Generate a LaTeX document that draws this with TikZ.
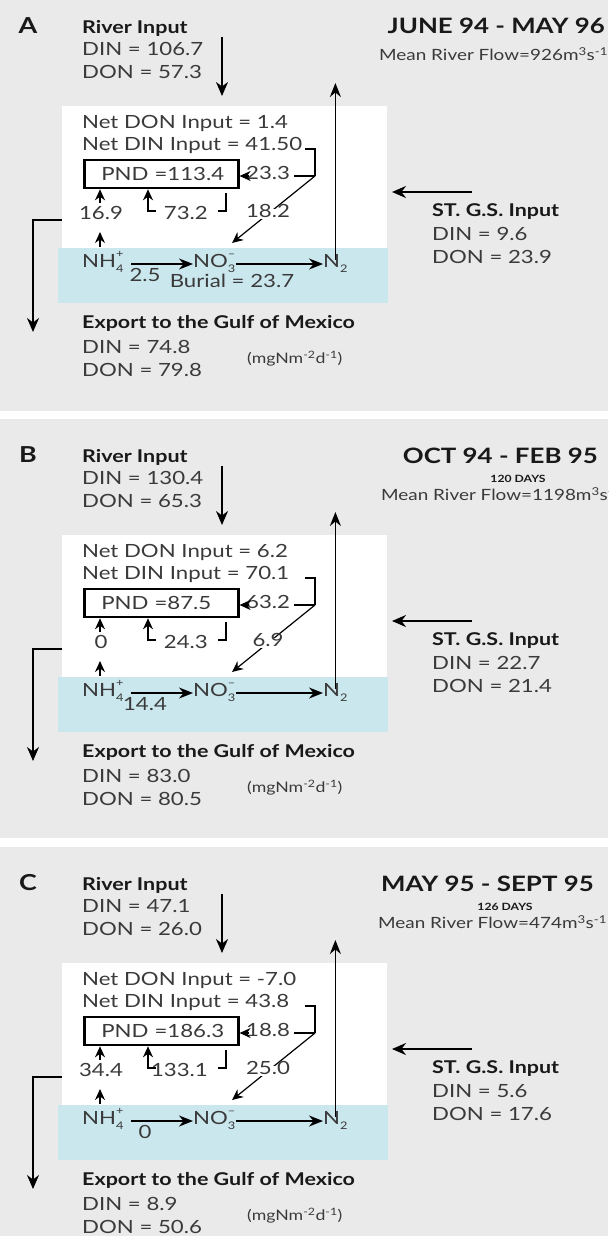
\documentclass[tikz,border=0pt]{standalone}
\usepackage{fontspec}
\setmainfont{Lato}[FakeStretch=1.22]
\usetikzlibrary{arrows.meta}
\definecolor{cardgray}{RGB}{234,234,234}
\definecolor{bandblue}{RGB}{203,231,238}
\definecolor{txtgray}{RGB}{58,58,58}
\newcommand\mysub[1]{\raisebox{-0.28em}{\fontsize{10.5}{11}\selectfont #1}}
\newcommand\mysup[1]{\raisebox{0.55em}{\fontsize{10.5}{11}\selectfont #1}}
\tikzset{
 txt/.style={font=\fontsize{18.2}{20}\selectfont, text=txtgray, inner sep=0pt, text height=0.72em, text depth=0pt, anchor=west},
 hd/.style={font=\bfseries\fontsize{17.6}{20}\selectfont, text=black!90, inner sep=0pt, text height=0.72em, text depth=0pt, anchor=west},
 lab/.style={font=\fontsize{18.2}{20}\selectfont, text=txtgray, inner sep=0pt, text height=0.72em, text depth=0pt},
 smalltxt/.style={font=\fontsize{15.5}{17}\selectfont, text=txtgray, inner sep=0pt, text height=0.72em, text depth=0pt, anchor=west},
 unittxt/.style={font=\fontsize{14.5}{16}\selectfont, text=txtgray, inner sep=0pt, text height=0.72em, text depth=0pt, anchor=west},
 ttl/.style={font=\bfseries\fontsize{21.2}{23}\selectfont, text=black!90, inner sep=0pt, text height=0.72em, text depth=0pt, anchor=east},
 days/.style={font=\bfseries\fontsize{10}{11}\selectfont, text=black!90, inner sep=0pt, text height=0.72em, text depth=0pt},
 letter/.style={font=\bfseries\fontsize{22}{24}\selectfont, text=black!90, inner sep=0pt, text height=0.72em, text depth=0pt},
 pndbox/.style={draw=black, line width=2.6pt, anchor=west, font=\fontsize{18.2}{20}\selectfont, text=txtgray, inner xsep=0pt, text width=154pt, align=left, minimum height=28pt},
 bigarr/.style={-{Stealth[length=14pt,width=12pt]}, line width=1.9pt},
 midarr/.style={-{Stealth[length=14pt,width=11pt]}, line width=1.5pt},
 smarr/.style={-{Stealth[length=11pt,width=10pt]}, line width=1.2pt},
 thinl/.style={line width=1.2pt},
 x=1pt, y=-1pt
}
\newcommand\panelbody{%
 \fill[white] (62,106) rectangle (387,248);
 \fill[bandblue] (58,248) rectangle (388,303);
 \node[letter] (let) at (28,30) {\pLetter};
 \node[hd] (ri) at (82,30) {River Input};
 \node[txt] (rdin) at (82,52) {DIN = \pRivDIN};
 \node[txt] (rdon) at (82,75) {DON = \pRivDON};
 \coordinate (rv1) at (222,37);
 \coordinate (rv2) at (222,96);
 \draw[bigarr] (rv1) -- (rv2);
 \node[txt] (ndon) at (82,125) {Net DON Input = \pNetDON};
 \node[txt] (ndin) at (82,147) {Net DIN Input = \pNetDIN};
 \node[pndbox] (pnd) at (83,174) {\hspace*{17pt}PND =\pPND};
 % bracket from Net DIN
 \coordinate (bk1) at (305,149);
 \coordinate (bk2) at (315,149);
 \coordinate (bk3) at (315,176);
 \draw[thinl] (bk1) -- (bk2) -- (bk3);
 \node[lab, anchor=west] (lr) at (246,176) {\pRight};
 \draw[thinl] ([xshift=4pt]lr.east) -- (bk3);
 \coordinate (ra) at (249,176);
 \draw[smarr] (ra) -- (pnd.east |- ra);
 % diagonal to NO3
 \coordinate (dg) at (232,243);
 \draw[smarr] (bk3) -- (dg);
 \node[lab, fill=white, inner sep=1.5pt] (ld) at (268,214) {\pDiag};
 % hook arrow
 \coordinate (hk1) at (226,193);
 \coordinate (hk2) at (226,211);
 \coordinate (hk3) at (218,211);
 \draw[thinl] (hk1) -- (hk2) -- (hk3);
 \coordinate (hk4) at (156,211);
 \coordinate (hk5) at (148,211);
 \draw[smarr] (hk4) -- (hk5) -- (pnd.south -| hk5);
 \node[lab, anchor=east] (lh) at (208,216) {\pHook};
 % left arrows
 \coordinate (lf1) at (100,247);
 \coordinate (lf2) at (100,232);
 \draw[smarr] (lf1) -- (lf2);
 \node[lab] (lfl) at (101,216) {\pLeft};
 \coordinate (lf3) at (100,203);
 \draw[smarr] (lf3) -- (pnd.south -| lf3);
 % band
 \node[txt] (nh) at (82,264) {NH\rlap{\mysup{+}}\mysub{4}};
 \node[txt] (no) at (193,264) {NO\rlap{\mysup{--}}\mysub{3}};
 \node[txt] (nn) at (323,264) {N\mysub{2}};
 \coordinate (na) at (131,264);
 \draw[midarr] (na) -- (no.west);
 \draw[midarr] (no.east) -- (nn.west);
 \node[lab] (lnit) at (145,278) {\pNit};
 \coordinate (up) at (334,83);
 \draw[midarr] (nn.north) -- (nn.north |- up);
 % ST GS input
 \coordinate (st1) at (472,192);
 \coordinate (st2) at (392,192);
 \draw[bigarr] (st1) -- (st2);
 \node[hd] (sth) at (432,213) {ST. G.S. Input};
 \node[txt] (stdin) at (432,237) {DIN = \pStDIN};
 \node[txt] (stdon) at (432,260) {DON = \pStDON};
 % export
 \coordinate (ex1) at (62,220);
 \coordinate (ex2) at (33,220);
 \coordinate (ex3) at (33,332);
 \draw[bigarr] (ex1) -- (ex2) -- (ex3);
 \node[hd] (exh) at (82,325) {Export to the Gulf of Mexico};
 \node[txt] (exdin) at (82,350) {DIN = \pExDIN};
 \node[txt] (exdon) at (82,373) {DON = \pExDON};
 \node[unittxt] (unit) at (247,360) {(mgNm\textsuperscript{-2}d\textsuperscript{-1})};
}
\begin{document}
\begin{tikzpicture}
\useasboundingbox (0,0) rectangle (608,1236);
\fill[white] (0,0) rectangle (608,1236);
\fill[cardgray] (0,0) rectangle (608,411);
\fill[cardgray] (0,419) rectangle (608,838);
\fill[cardgray] (0,847) rectangle (608,1236);
% Panel A
\def\pLetter{A}\def\pRivDIN{106.7}\def\pRivDON{57.3}\def\pNetDON{1.4}\def\pNetDIN{41.50}
\def\pPND{113.4}\def\pRight{23.3}\def\pDiag{18.2}\def\pHook{73.2}\def\pLeft{16.9}\def\pNit{2.5}
\def\pStDIN{9.6}\def\pStDON{23.9}\def\pExDIN{74.8}\def\pExDON{79.8}
\begin{scope}[name prefix=A-]
 \panelbody
 \node[ttl] (title) at (605,30) {JUNE 94 - MAY 96};
 \node[smalltxt] (flow) at (379,57) {Mean River Flow=926m\textsuperscript{3}s\textsuperscript{-1}};
 \node[lab] (burial) at (232,284) {Burial = 23.7};
\end{scope}
% Panel B
\def\pLetter{B}\def\pRivDIN{130.4}\def\pRivDON{65.3}\def\pNetDON{6.2}\def\pNetDIN{70.1}
\def\pPND{87.5}\def\pRight{63.2}\def\pDiag{6.9}\def\pHook{24.3}\def\pLeft{0}\def\pNit{14.4}
\def\pStDIN{22.7}\def\pStDON{21.4}\def\pExDIN{83.0}\def\pExDON{80.5}
\begin{scope}[yshift=-429pt, name prefix=B-]
 \panelbody
 \node[ttl] (title) at (598,31) {OCT 94 - FEB 95};
 \node[days] (dur) at (518,50) {120 DAYS};
 \node[smalltxt] (flow) at (381,68) {Mean River Flow=1198m\textsuperscript{3}s\textsuperscript{-1}};
\end{scope}
% Panel C
\def\pLetter{C}\def\pRivDIN{47.1}\def\pRivDON{26.0}\def\pNetDON{-7.0}\def\pNetDIN{43.8}
\def\pPND{186.3}\def\pRight{18.8}\def\pDiag{25.0}\def\pHook{133.1}\def\pLeft{34.4}\def\pNit{0}
\def\pStDIN{5.6}\def\pStDON{17.6}\def\pExDIN{8.9}\def\pExDON{50.6}
\begin{scope}[yshift=-857pt, name prefix=C-]
 \panelbody
 \node[ttl] (title) at (594,31) {MAY 95 - SEPT 95};
 \node[days] (dur) at (505,50) {126 DAYS};
 \node[smalltxt] (flow) at (378,68) {Mean River Flow=474m\textsuperscript{3}s\textsuperscript{-1}};
\end{scope}
\end{tikzpicture}
\end{document}
